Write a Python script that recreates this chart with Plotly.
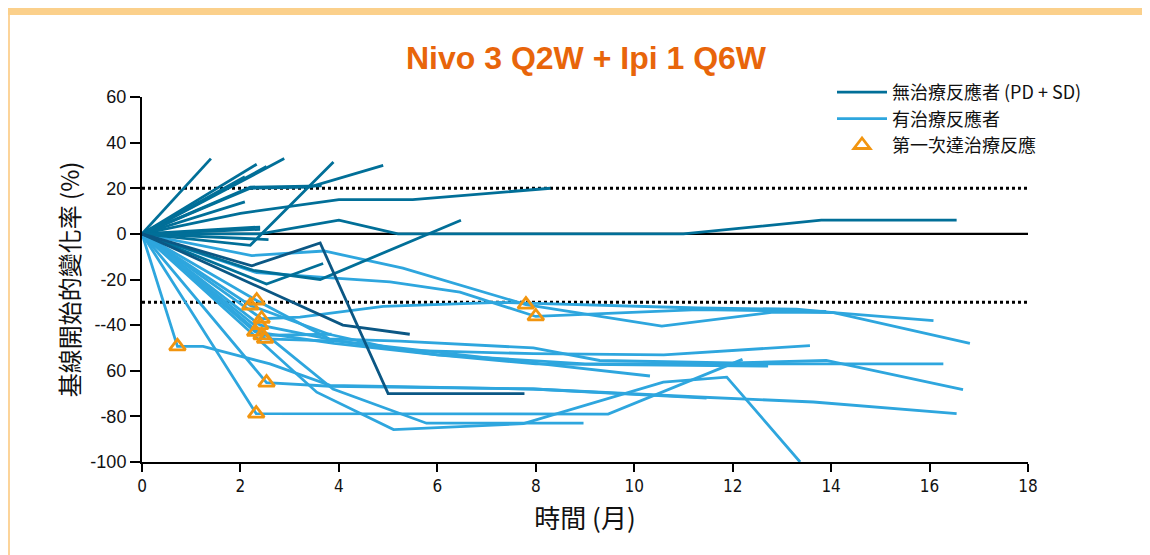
import plotly.graph_objects as go

# ---------------- data ----------------
# Non-responders (PD + SD): months and % change from baseline
nonresp_months = [
    [0, 1.4], [0, 2.33], [0, 2.53], [0, 2.89], [0, 2.09],
    [0, 2.2, 3.65], [0, 2.2, 3.4, 4.9], [0, 2.09],
    [0, 2.0, 4.0, 5.5, 8.3], [0, 2.4], [0, 2.4], [0, 2.57],
    [0, 2.2, 3.89], [0, 2.4, 4.0, 5.2, 11.0, 13.8, 16.55],
    [0, 2.26, 3.62, 6.48], [0, 2.53, 3.68],
]
nonresp_change = [
    [0, 33], [0, 30.5], [0, 29.5], [0, 33], [0, 25],
    [0, 20.5, 21], [0, 20, 20.5, 30], [0, 14],
    [0, 9, 15, 15, 20], [0, 3], [0, 2], [0, -2.5],
    [0, -5, 31.5], [0, 0, 6, 0, 0, 6, 6],
    [0, -16, -20, 6], [0, -22, -13],
]
# two non-responders drawn in a deeper blue
nonresp_dark_months = [[0, 2.23, 3.62, 5.0, 7.77], [0, 4.08, 5.44]]
nonresp_dark_change = [[0, -14, -4, -70, -70], [0, -40, -44]]

# Responders
resp_months = [
    [0, 2.23, 3.7, 5.3, 7.8, 10.56, 12.83, 14.05, 16.82],
    [0, 2.33, 3.62, 5.04, 6.46, 8.0, 11.3, 13.9],
    [0, 2.43, 3.21, 4.9, 7.27, 11.3, 13.3, 14.05, 16.08],
    [0, 2.2, 3.8, 5.24, 7.95, 10.6, 13.57],
    [0, 2.33, 3.8, 5.24, 7.95, 9.3, 12.0, 13.9, 16.68],
    [0, 2.3, 3.9, 6.0, 9.0, 16.28],
    [0, 2.43, 3.85],
    [0, 2.5, 4.0, 6.0, 8.0, 12.72],
    [0, 2.4, 4.0, 6.5, 10.32],
    [0, 0.72, 1.24, 2.6, 3.82, 7.95, 11.3, 13.64, 16.55],
    [0, 2.53, 3.82, 7.95, 11.47],
    [0, 2.32, 9.47, 12.2],
    [0, 3.55, 5.11, 7.75, 10.59, 11.88, 13.37],
    [0, 3.88, 5.78, 8.97],
]
resp_change = [
    [0, -9.5, -7.5, -15, -31, -40.4, -34.3, -34.5, -48],
    [0, -17, -19, -21, -25.5, -36.2, -33.2, -34],
    [0, -37.2, -36.5, -31.8, -30, -32.5, -33, -34.5, -38],
    [0, -31.4, -44, -51, -52.5, -53, -49],
    [0, -29.2, -46, -47, -50, -55.5, -56.6, -55.5, -68.3],
    [0, -43, -48, -53, -57, -57],
    [0, -44.5, -44],
    [0, -46, -47, -53, -57, -58],
    [0, -40, -47, -53, -62.3],
    [0, -49.3, -49.3, -57, -66.4, -68, -71.5, -73.7, -78.8],
    [0, -65.2, -66.8, -68, -72],
    [0, -78.8, -79, -55],
    [0, -69.4, -85.8, -83.2, -65, -62.8, -100],
    [0, -68, -83, -83],
]

# First response (triangles)
first_resp_months = [7.8, 8.0, 2.43, 2.2, 2.33, 2.3, 2.43, 2.5, 2.4, 0.72, 2.53, 2.32]
first_resp_change = [-31, -36.2, -37.2, -31.4, -29.2, -43, -44.5, -46, -40, -49.3, -65.2, -78.8]

x_ticks = [0, 2, 4, 6, 8, 10, 12, 14, 16, 18]
y_ticks = [-100, -80, -60, -40, -20, 0, 20, 40, 60]
y_tick_labels = ["-100", "-80", "60", "--40", "-20", "0", "20", "40", "60"]
ref_lines_dotted = [20, -30]

title_text = "Nivo 3 Q2W + Ipi 1 Q6W"
x_title = "時間 (月)"
y_title = "基線開始的變化率 (%)"
legend_names = ["無治療反應者 (PD + SD)", "有治療反應者", "第一次達治療反應"]

# ---------------- style ----------------
DARK = "#016f98"
DARKER = "#0b5784"
LIGHT = "#2ea6de"
ORANGE = "#f2950f"
TITLE_ORANGE = "#e8650a"
CJK = "Noto Sans CJK TC"
LW = 2.8

fig = go.Figure()

# reference lines
fig.add_trace(go.Scatter(x=[0, 18], y=[0, 0], mode="lines",
                         line=dict(color="black", width=2.4),
                         showlegend=False, hoverinfo="skip"))
for yv in ref_lines_dotted:
    fig.add_trace(go.Scatter(x=[0, 18], y=[yv, yv], mode="lines",
                             line=dict(color="black", width=3, dash="dot"),
                             showlegend=False, hoverinfo="skip"))

# responders
for i, (xs, ys) in enumerate(zip(resp_months, resp_change)):
    fig.add_trace(go.Scatter(x=xs, y=ys, mode="lines",
                             line=dict(color=LIGHT, width=LW),
                             name=legend_names[1], legendgroup="resp",
                             legendrank=2, showlegend=(i == 0)))

# non-responders
for i, (xs, ys) in enumerate(zip(nonresp_months, nonresp_change)):
    fig.add_trace(go.Scatter(x=xs, y=ys, mode="lines",
                             line=dict(color=DARK, width=LW),
                             name=legend_names[0], legendgroup="nonresp",
                             legendrank=1, showlegend=(i == 0)))
for xs, ys in zip(nonresp_dark_months, nonresp_dark_change):
    fig.add_trace(go.Scatter(x=xs, y=ys, mode="lines",
                             line=dict(color=DARKER, width=LW),
                             legendgroup="nonresp", showlegend=False))

# first response markers
fig.add_trace(go.Scatter(x=first_resp_months, y=first_resp_change, mode="markers",
                         marker=dict(symbol="triangle-up-open", size=14,
                                     color=ORANGE, line=dict(width=2.8, color=ORANGE)),
                         name=legend_names[2], legendrank=3))

# page offset of the figure inside the html body
OFF = 8
W, H = 1150 - OFF, 555 - OFF
L, T = 142 - OFF, 97 - OFF
PW, PH = 886, 365
R, B = W - L - PW, H - T - PH


def px_x(p):
    """absolute page x pixel -> paper coordinate"""
    return (p - OFF - L) / PW


def px_y(p):
    """absolute page y pixel -> paper coordinate"""
    return (T + PH - (p - OFF)) / PH


shapes = [
    dict(type="rect", xref="paper", yref="paper", x0=px_x(OFF), x1=px_x(1150),
         y0=px_y(OFF + 7), y1=px_y(OFF), fillcolor="#fbd08b", line=dict(width=0), layer="below"),
    dict(type="rect", xref="paper", yref="paper", x0=px_x(OFF), x1=px_x(OFF + 2),
         y0=px_y(560), y1=px_y(OFF + 7), fillcolor="#fcd49a", line=dict(width=0), layer="below"),
]

fig.update_layout(
    width=W, height=H,
    margin=dict(l=L, r=R, t=T, b=B, autoexpand=False),
    paper_bgcolor="white", plot_bgcolor="white",
    shapes=shapes,
    title=dict(text=title_text, x=(586 - OFF) / W, xanchor="center",
               y=1 - (58 - OFF) / H, yanchor="middle",
               font=dict(family="Liberation Sans, Arial", size=32, color=TITLE_ORANGE,
                         weight="bold")),
    xaxis=dict(range=[0, 18], tickvals=x_ticks, ticktext=[str(v) for v in x_ticks],
               showline=True, linecolor="black", linewidth=2, ticks="outside",
               ticklen=8, tickwidth=1.6, tickcolor="black", showgrid=False, zeroline=False,
               tickfont=dict(family="Liberation Sans Narrow, DejaVu Sans Condensed, Liberation Sans",
                             size=17, color="#111"),
               title=dict(text=x_title, font=dict(family=CJK, size=26, color="#111"), standoff=14)),
    yaxis=dict(range=[-100, 60], tickvals=y_ticks, ticktext=y_tick_labels,
               showline=True, linecolor="black", linewidth=2, ticks="outside",
               ticklen=10, tickwidth=1.6, tickcolor="black", showgrid=False, zeroline=False,
               tickfont=dict(family="Liberation Sans, Arial", size=18, color="#111"),
               title=dict(text=y_title, font=dict(family=CJK, size=24, color="#111"), standoff=4)),
    legend=dict(x=px_x(832), y=px_y(74), xanchor="left", yanchor="top",
                bgcolor="rgba(0,0,0,0)", font=dict(family=CJK, size=18, color="#111"),
                tracegroupgap=0, itemwidth=50),
    showlegend=True,
)

fig.write_html("out.html")
